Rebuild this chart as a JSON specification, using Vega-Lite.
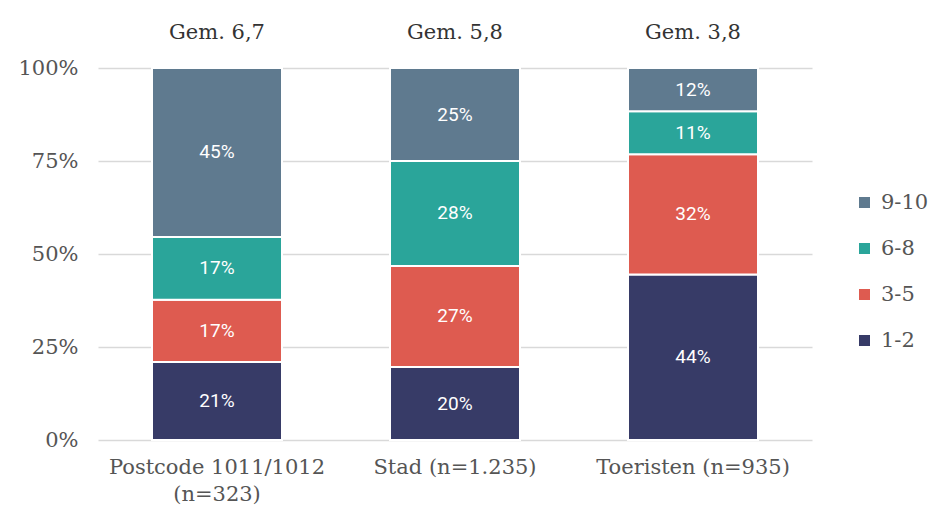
{
  "$schema": "https://vega.github.io/schema/vega-lite/v6.json",
  "width": 714,
  "height": 372,
  "autosize": "none",
  "padding": {"left": 98, "top": 68, "right": 120, "bottom": 74},
  "background": "white",
  "config": {"view": {"stroke": null}, "font": "DejaVu Serif"},
  "data": {
    "values": [
      {"cat": "Postcode 1011/1012|(n=323)", "gem": "Gem. 6,7", "score": "1-2", "ord": 1, "value": 21.0, "label": "21%"},
      {"cat": "Postcode 1011/1012|(n=323)", "gem": "Gem. 6,7", "score": "3-5", "ord": 2, "value": 16.7, "label": "17%"},
      {"cat": "Postcode 1011/1012|(n=323)", "gem": "Gem. 6,7", "score": "6-8", "ord": 3, "value": 16.9, "label": "17%"},
      {"cat": "Postcode 1011/1012|(n=323)", "gem": "Gem. 6,7", "score": "9-10", "ord": 4, "value": 45.4, "label": "45%"},
      {"cat": "Stad (n=1.235)", "gem": "Gem. 5,8", "score": "1-2", "ord": 1, "value": 19.6, "label": "20%"},
      {"cat": "Stad (n=1.235)", "gem": "Gem. 5,8", "score": "3-5", "ord": 2, "value": 27.2, "label": "27%"},
      {"cat": "Stad (n=1.235)", "gem": "Gem. 5,8", "score": "6-8", "ord": 3, "value": 28.2, "label": "28%"},
      {"cat": "Stad (n=1.235)", "gem": "Gem. 5,8", "score": "9-10", "ord": 4, "value": 25.0, "label": "25%"},
      {"cat": "Toeristen (n=935)", "gem": "Gem. 3,8", "score": "1-2", "ord": 1, "value": 44.5, "label": "44%"},
      {"cat": "Toeristen (n=935)", "gem": "Gem. 3,8", "score": "3-5", "ord": 2, "value": 32.3, "label": "32%"},
      {"cat": "Toeristen (n=935)", "gem": "Gem. 3,8", "score": "6-8", "ord": 3, "value": 11.6, "label": "11%"},
      {"cat": "Toeristen (n=935)", "gem": "Gem. 3,8", "score": "9-10", "ord": 4, "value": 11.6, "label": "12%"}
    ]
  },
  "layer": [
    {
      "mark": {"type": "bar", "width": 130, "stroke": "white", "strokeWidth": 2},
      "encoding": {
        "x": {
          "field": "cat", "type": "nominal",
          "sort": ["Postcode 1011/1012|(n=323)", "Stad (n=1.235)", "Toeristen (n=935)"],
          "scale": {"paddingInner": 0, "paddingOuter": 0},
          "axis": {
            "title": null, "labelAngle": 0, "domain": false, "ticks": false,
            "labelFontSize": 21, "labelColor": "#555555", "labelPadding": 16,
            "labelLimit": 400, "labelLineHeight": 27, "labelExpr": "split(datum.label, '|')"
          }
        },
        "y": {
          "field": "value", "type": "quantitative", "stack": "zero",
          "scale": {"domain": [0, 100]},
          "axis": {
            "title": null, "values": [0, 25, 50, 75, 100], "domain": false, "ticks": false,
            "labelFontSize": 21, "labelColor": "#555555", "labelPadding": 20,
            "gridColor": "#d9d9d9", "gridWidth": 1.5,
            "labelExpr": "datum.value + '%'"
          }
        },
        "color": {
          "field": "score", "type": "nominal",
          "scale": {"domain": ["9-10", "6-8", "3-5", "1-2"], "range": ["#5f7a8f", "#2aa59a", "#de5b50", "#373b67"]},
          "legend": {
            "title": null, "orient": "none", "legendX": 756, "legendY": 124,
            "symbolType": "square", "symbolSize": 121, "symbolStrokeWidth": 0,
            "labelFontSize": 21, "labelColor": "#555555", "labelOffset": 6,
            "rowPadding": 24, "labelFont": "DejaVu Serif"
          }
        },
        "order": {"field": "ord", "type": "quantitative"}
      }
    },
    {
      "transform": [
        {"window": [{"op": "sum", "field": "value", "as": "cum"}], "groupby": ["cat"], "sort": [{"field": "ord"}], "frame": [null, 0]},
        {"calculate": "datum.cum - datum.value / 2", "as": "mid"}
      ],
      "mark": {"type": "text", "font": "Roboto", "fontSize": 19, "color": "white"},
      "encoding": {
        "x": {"field": "cat", "type": "nominal", "sort": ["Postcode 1011/1012|(n=323)", "Stad (n=1.235)", "Toeristen (n=935)"], "axis": null},
        "y": {"field": "mid", "type": "quantitative"},
        "text": {"field": "label"}
      }
    },
    {
      "transform": [{"filter": "datum.ord == 4"}],
      "mark": {"type": "text", "opacity": 0},
      "encoding": {
        "x": {
          "field": "cat", "type": "nominal",
          "sort": ["Postcode 1011/1012|(n=323)", "Stad (n=1.235)", "Toeristen (n=935)"],
          "axis": {
            "orient": "top", "title": null, "labelAngle": 0, "domain": false, "ticks": false,
            "labelFontSize": 21, "labelColor": "#333333", "labelPadding": 26,
            "labelExpr": "indexof(datum.label, 'Postcode') == 0 ? 'Gem. 6,7' : indexof(datum.label, 'Stad') == 0 ? 'Gem. 5,8' : 'Gem. 3,8'"
          }
        },
        "y": {"field": "value", "type": "quantitative"},
        "text": {"field": "gem"}
      }
    }
  ],
  "resolve": {"axis": {"x": "independent"}}
}
